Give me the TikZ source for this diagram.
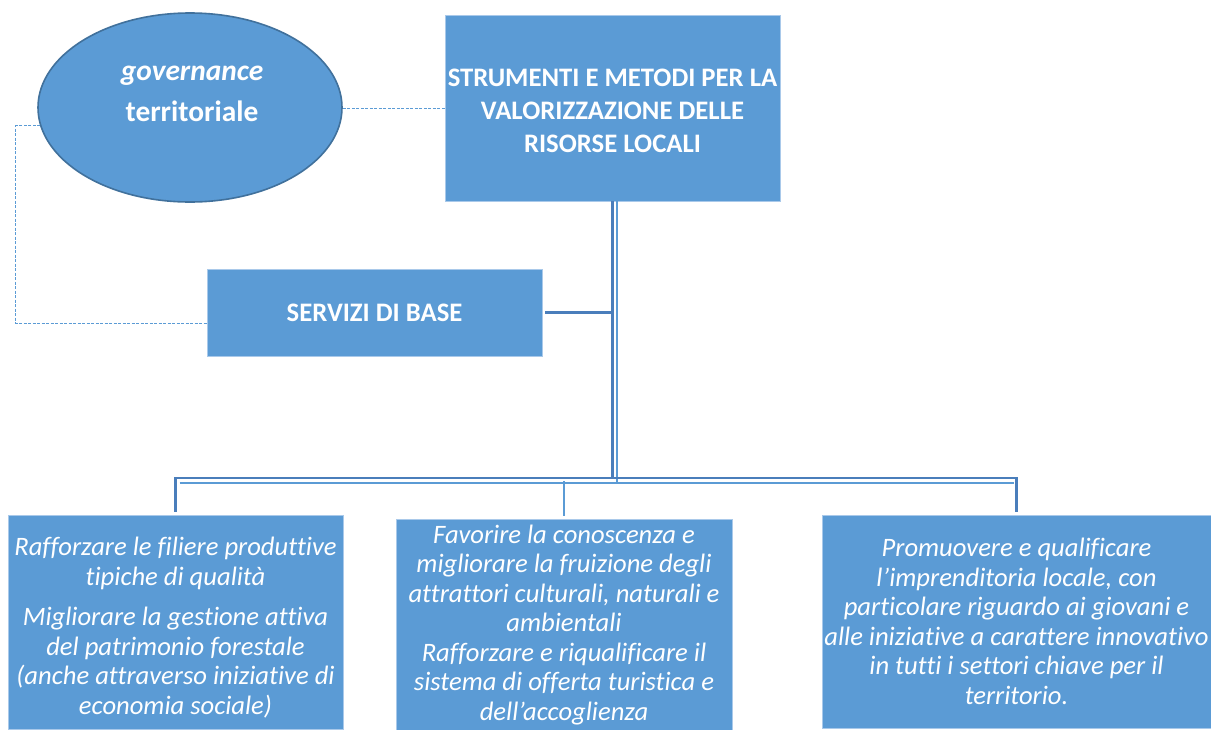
\documentclass[tikz,border=0pt]{standalone}
\usepackage{fontspec}
\setmainfont{Carlito}[Ligatures={NoCommon}]
\usetikzlibrary{shapes.geometric,calc}
\definecolor{boxblue}{HTML}{5B9BD5}
\definecolor{darkblue}{HTML}{41719C}
\definecolor{lineblue}{HTML}{4A7EBB}
\definecolor{edgeblue}{HTML}{A9C9EA}
\begin{document}
\begin{tikzpicture}[x=1pt,y=-1pt,
  boxnode/.style={rectangle, fill=boxblue, draw=edgeblue, line width=0.8pt, inner sep=0pt, text=white, align=center},
  headfont/.style={font=\fontsize{26.7}{33}\selectfont\bfseries},
  itfont/.style={font=\fontsize{26.6}{29.5}\selectfont\itshape},
  darkln/.style={draw=lineblue, line width=2.2pt},
  lightln/.style={draw=boxblue, line width=2pt},
  dashln/.style={draw=boxblue, line width=0.9pt, dash pattern=on 3pt off 1.5pt}]
\useasboundingbox (0,0) rectangle (1211,729);

% nodes
\node[ellipse, fill=boxblue, draw=darkblue, line width=1.6pt, minimum width=304pt, minimum height=189pt, inner sep=0pt] (ell) at (190,107.5) {};
\node[text=white, align=center, font=\fontsize{29.4}{41}\selectfont\bfseries, inner sep=0pt] (elltext) at (192,94) {\textit{governance}\\territoriale};

\node[boxnode, headfont, minimum width=335pt, minimum height=186pt] (top) at (612.5,108) {};
\node[text=white, align=center, headfont, inner sep=0pt] (toptext) at (612.5,111) {STRUMENTI E METODI PER LA\\VALORIZZAZIONE DELLE\\RISORSE LOCALI};

\node[boxnode, headfont, minimum width=335pt, minimum height=87pt] (serv) at (374.5,312.5) {SERVIZI DI BASE};

\node[boxnode, itfont, minimum width=335pt, minimum height=214pt] (box1) at (175.5,622) {};
\node[text=white, align=center, itfont, inner sep=0pt] (text1) at (175.5,627.5) {Rafforzare le filiere produttive\\tipiche di qualità\\[11pt]Migliorare la gestione attiva\\del patrimonio forestale\\(anche attraverso iniziative di\\economia sociale)};

\node[boxnode, itfont, minimum width=336pt, minimum height=212pt] (box2) at (564,625) {Favorire la conoscenza e\\migliorare la fruizione degli\\attrattori culturali, naturali e\\ambientali\\Rafforzare e riqualificare il\\sistema di offerta turistica e\\dell’accoglienza};

\node[boxnode, itfont, minimum width=389pt, minimum height=213pt] (box3) at (1016.5,621.5) {Promuovere e qualificare\\l’imprenditoria locale, con\\particolare riguardo ai giovani e\\alle iniziative a carattere innovativo\\in tutti i settori chiave per il\\territorio.};

% bus coordinates
\coordinate (busD) at (0,478);
\coordinate (busL) at (0,483);
\coordinate (lx) at (15.7,0);
\coordinate (sl) at ($(serv.west)+(0,10.5)$);

% connectors
\draw[lightln] ($(top.south)+(4,0)$) -- ($(top.south |- busL)+(4,0)$);
\draw[lightln] ($(box1.north |- busL)+(4,0)$) -- ($(box3.north |- busL)+(-3,0)$);
\draw[lightln] ($(box2.north |- busL)+(0,-2)$) -- ($(box2.north)+(0,-3)$);
\draw[darkln] (top.south) -- (top.south |- busD);
\draw[darkln] ($(box1.north)+(0,-3)$) -- (box1.north |- busD) -- (box3.north |- busD) -- ($(box3.north)+(0,-3)$);
\draw[darkln] ($(serv.east)+(3,0)$) -- (serv.east -| top.south);

\draw[dashln] (ell.east |- top.west) -- (top.west);
\draw[dashln] (ell.187) -- (ell.187 -| lx) -- (lx |- sl) -- (sl);
\end{tikzpicture}
\end{document}
